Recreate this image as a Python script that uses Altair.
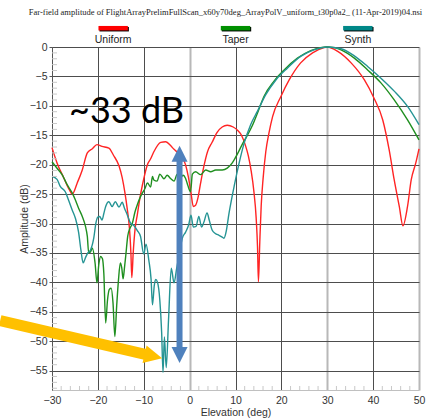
import altair as alt
import pandas as pd
import math

TITLE = "Far-field amplitude of FlightArrayPrelimFullScan_x60y70deg_ArrayPolV_uniform_t30p0a2_ (11-Apr-2019)04.nsi"
series_names = ["Uniform", "Taper", "Synth"]
line_colors = ["#ff2424", "#1f8f1f", "#259494"]
legend_colors = ["#ff0000", "#009000", "#008888"]

uniform_x = [-30, -28.9, -27.4, -26.2, -25.6, -24.5, -23.4, -22.3, -21.2, -20.2, -19.1, -17.6, -16.6, -15.4, -14.7, -14.1, -13.6, -13.1, -12.8, -12.6, -12.3, -11.9, -11.4, -10.8, -10.3, -9.2, -8.5, -7.8, -6.3, -5.2, -4.1, -3.4, -2.5, -1.6, -0.9, -0.3, 0.3, 0.8, 1.3, 1.8, 2.4, 3.1, 3.9, 4.9, 6.0, 7.1, 8.2, 9.5, 10.5, 11.3, 12.2, 12.8, 13.4, 14.0, 14.5, 14.8, 15.0, 15.3, 15.6, 16.0, 16.6, 17.3, 18.1, 19.9, 21.7, 24.2, 26.8, 29.3, 30.0, 32.2, 35.2, 38.1, 40.2, 42.1, 43.5, 44.6, 45.7, 46.5, 47.5, 48.3, 49.3, 50]
uniform_y = [-17.1, -19.7, -22.3, -24.3, -25.0, -23.1, -20.9, -18.0, -17.3, -16.6, -16.9, -17.2, -18.4, -20.2, -22.2, -24.8, -27.5, -31.0, -35.0, -39.2, -35.0, -31.0, -28.5, -25.5, -23.5, -20.0, -19.0, -17.8, -16.2, -16.1, -16.8, -17.4, -18.0, -18.8, -20.0, -22.0, -24.8, -27.1, -26.9, -25.7, -23.1, -20.3, -17.8, -16.2, -14.5, -13.6, -13.3, -13.6, -14.2, -15.0, -16.8, -18.5, -21.0, -24.5, -29.0, -34.0, -39.9, -33.0, -27.0, -22.5, -17.8, -14.6, -11.8, -8.4, -5.6, -2.7, -1.0, -0.1, 0.0, -0.7, -2.7, -5.6, -8.7, -12.4, -17.5, -22.6, -27.1, -30.4, -27.1, -22.6, -19.7, -17.3]

taper_x = [-30, -28.9, -27.8, -26.7, -25.6, -24.9, -24.2, -23.4, -22.7, -22.3, -22.0, -21.6, -21.2, -20.6, -20.2, -19.8, -19.4, -19.0, -18.7, -18.3, -17.9, -17.5, -17.1, -16.7, -16.3, -15.9, -15.5, -15.1, -14.8, -14.5, -14.2, -13.9, -13.5, -13.0, -12.5, -11.9, -11.4, -10.8, -10.3, -9.7, -9.2, -8.5, -8.1, -7.8, -7.1, -6.5, -5.6, -4.9, -4.1, -3.4, -2.7, -2.0, -1.4, -0.9, -0.4, 0.2, 0.6, 1.3, 2.4, 3.5, 4.6, 5.7, 7.1, 8.2, 9.3, 10.4, 11.5, 12.6, 13.7, 14.8, 16.2, 18.4, 20.6, 23.5, 26.4, 28.5, 30.0, 31.5, 33.0, 35.9, 38.8, 41.7, 44.6, 47.5, 50]
taper_y = [-19.5, -20.6, -21.7, -23.4, -24.8, -26.0, -27.4, -28.8, -30.5, -32.2, -35.0, -34.8, -34.2, -36.8, -40.1, -37.0, -35.6, -36.0, -38.5, -46.9, -43.0, -41.2, -41.0, -43.5, -49.2, -44.0, -39.5, -36.7, -37.5, -39.4, -37.5, -35.3, -32.2, -30.8, -30.0, -28.0, -26.8, -25.6, -24.8, -24.0, -23.1, -23.8, -22.0, -22.6, -22.8, -21.6, -22.4, -21.8, -22.4, -22.8, -21.6, -22.2, -21.8, -22.3, -23.5, -24.6, -21.6, -21.2, -21.7, -20.9, -21.2, -20.9, -20.9, -20.6, -19.7, -18.2, -16.5, -15.0, -13.3, -11.2, -8.4, -5.8, -3.9, -1.9, -0.6, -0.1, 0.0, -0.1, -0.5, -1.9, -3.9, -6.1, -9.0, -12.4, -15.8]

synth_x = [-30, -28.9, -28.2, -27.1, -26.4, -25.6, -24.9, -24.2, -23.7, -23.2, -22.7, -22.2, -21.6, -20.9, -20.4, -20.0, -19.6, -19.1, -18.7, -18.3, -17.6, -16.9, -16.2, -15.4, -14.7, -14.2, -13.6, -12.9, -12.2, -11.4, -10.7, -10.0, -9.5, -8.9, -8.4, -8.1, -7.7, -7.4, -7.0, -6.5, -6.1, -5.8, -5.5, -5.1, -4.6, -4.0, -3.4, -2.8, -2.2, -1.6, -0.9, -0.2, 0.3, 0.8, 1.4, 2.0, 2.6, 3.1, 3.8, 4.3, 4.9, 5.6, 6.4, 7.1, 7.5, 7.9, 8.6, 9.7, 10.8, 11.9, 13.3, 14.8, 16.6, 18.8, 21.3, 24.2, 27.1, 30.0, 33.0, 35.9, 38.8, 41.7, 44.6, 47.5, 50]
synth_y = [-22.0, -22.5, -23.7, -24.6, -26.0, -27.7, -29.1, -31.5, -34.5, -36.7, -35.8, -35.0, -34.5, -32.5, -29.8, -28.9, -28.8, -29.4, -28.3, -27.1, -26.3, -27.1, -26.3, -27.2, -26.4, -27.4, -28.5, -29.9, -30.3, -31.2, -32.2, -35.2, -33.5, -36.2, -39.5, -43.8, -40.5, -39.5, -40.0, -43.0, -48.5, -55.3, -49.3, -54.5, -46.4, -37.6, -40.1, -37.5, -35.0, -32.5, -31.5, -30.2, -28.6, -30.6, -30.5, -28.8, -30.6, -29.8, -28.2, -29.5, -31.1, -31.7, -32.0, -32.3, -32.5, -31.6, -28.2, -23.7, -19.7, -16.3, -13.2, -10.9, -8.1, -5.6, -3.6, -1.6, -0.5, 0.0, -0.3, -1.5, -3.3, -5.3, -7.5, -10.1, -13.2]

x_ticks = [-30, -20, -10, 0, 10, 20, 30, 40, 50]
y_ticks = [-55, -50, -45, -40, -35, -30, -25, -20, -15, -10, -5, 0]

# annotations (data coordinates)
note_text = "~33 dB"
note_x, note_y = -13.75, -12.9
blue_x, blue_top, blue_bottom = -2.2, -16.8, -53.7
yellow_start = (-41.3, -46.5)
yellow_tip = (-6.0, -52.9)

X_DOMAIN = [-30, 50]
Y_DOMAIN = [-58.3, 0]
W, H = 367, 343
FONT = "Liberation Sans"

xs = alt.Scale(domain=X_DOMAIN, nice=False, zero=False)
ys = alt.Scale(domain=Y_DOMAIN, nice=False, zero=False)


def X(field):
    return alt.X(field, scale=xs, axis=None)


def Y(field):
    return alt.Y(field, scale=ys, axis=None)


rows = []
for name, xv, yv in [("Uniform", uniform_x, uniform_y), ("Taper", taper_x, taper_y), ("Synth", synth_x, synth_y)]:
    for i, (a, b) in enumerate(zip(xv, yv)):
        rows.append({"series": name, "elev": a, "amp": b, "ord": i})
df = pd.DataFrame(rows)

special = "datum.value === 0 || datum.value === 30 || datum.value === 50"
x_axis = alt.Axis(values=x_ticks, grid=True,
                  gridColor={"condition": {"test": special, "value": "#b8b8b8"}, "value": "#4d4d4d"},
                  gridWidth={"condition": {"test": special, "value": 2}, "value": 1},
                  tickSize=0, labelPadding=5, domainColor="#c0c0c0",
                  labelOverlap=False, labelBound=False, labelFlush=False,
                  labelFont=FONT, labelFontSize=10.5, labelColor="#333333",
                  titleFont=FONT, titleFontSize=10.5, titleFontWeight="normal", titleColor="#333333",
                  titlePadding=2)
y_axis = alt.Axis(values=y_ticks, grid=True, gridColor="#4d4d4d", gridWidth=1,
                  tickSize=3, tickColor="#555555", labelPadding=2, domainColor="#555555",
                  labelOverlap=False, labelBound=False, labelFlush=False,
                  labelFont=FONT, labelFontSize=10.5, labelColor="#333333",
                  titleFont=FONT, titleFontSize=10.5, titleFontWeight="normal", titleColor="#333333",
                  titlePadding=0)

lines = alt.Chart(df).mark_line(strokeWidth=1.4, interpolate="monotone").encode(
    x=alt.X("elev:Q", scale=xs, axis=x_axis, title="Elevation (deg)"),
    y=alt.Y("amp:Q", scale=ys, axis=y_axis, title="Amplitude (dB)"),
    color=alt.Color("series:N", scale=alt.Scale(domain=series_names, range=line_colors), legend=None),
    order="ord:Q",
)

# minor ticks
minor_y = pd.DataFrame({"v": [v for v in range(-58, 0) if v % 5 != 0]})
minor_left = alt.Chart(minor_y).mark_rule(color="#c8c8c8", strokeWidth=1).encode(
    y=Y("v:Q"), x=alt.value(0), x2=alt.value(5))
minor_x = pd.DataFrame({"v": [v for v in range(-28, 50, 2) if v % 10 != 0]})
minor_bottom = alt.Chart(minor_x).mark_rule(color="#c8c8c8", strokeWidth=1).encode(
    x=X("v:Q"), y=alt.value(H), y2=alt.value(H - 4))

# title as a text mark above the legend
title_mark = alt.Chart(pd.DataFrame({"t": [TITLE]})).mark_text(
    font="Liberation Serif", fontSize=8.5, color="#222222", baseline="middle", align="center").encode(
    x=alt.value(W / 2 - 10), y=alt.value(-35), text="t:N")

# custom legend across the top
span = X_DOMAIN[1] - X_DOMAIN[0]
half = 14.7 * span / W
leg = pd.DataFrame({
    "series": series_names,
    "color": legend_colors,
    "cx": [X_DOMAIN[0] + span * (2 * i + 1) / 6 for i in range(3)],
})
leg["x0"] = leg["cx"] - half
leg["x1"] = leg["cx"] + half
leg_shadow = alt.Chart(leg).mark_rule(strokeWidth=4.5, color="#000000", strokeCap="butt", xOffset=1, x2Offset=1).encode(
    x=X("x0:Q"), x2="x1:Q", y=alt.value(-17.8))
leg_bar = alt.Chart(leg).mark_rule(strokeWidth=4.5, strokeCap="butt").encode(
    x=X("x0:Q"), x2="x1:Q", y=alt.value(-18.8),
    color=alt.Color("color:N", scale=None))
leg_text = alt.Chart(leg).mark_text(font=FONT, fontSize=10.5, color="#222222", baseline="middle").encode(
    x=X("cx:Q"), y=alt.value(-7), text="series:N")

# annotations
note = alt.Chart(pd.DataFrame({"x": [note_x], "y": [note_y], "t": [note_text]})).mark_text(
    font="Lato", fontSize=36, color="#000000", baseline="alphabetic", align="center").encode(
    x=X("x:Q"), y=Y("y:Q"), text="t:N")

BLUE = "#4F81BD"
YELLOW = "#FFC000"
px_per_db = H / (Y_DOMAIN[1] - Y_DOMAIN[0])
px_per_deg = W / span
blue_shaft = alt.Chart(pd.DataFrame({"x": [blue_x], "y": [blue_top - 7 / px_per_db], "y2": [blue_bottom + 7 / px_per_db]})).mark_rule(
    color=BLUE, strokeWidth=6, strokeCap="butt").encode(
    x=X("x:Q"), y=Y("y:Q"), y2="y2:Q")
blue_heads = alt.Chart(pd.DataFrame({"x": [blue_x, blue_x], "y": [blue_top, blue_bottom], "k": ["up", "down"]})).mark_point(
    filled=True, opacity=1, color=BLUE, size=256, strokeWidth=0).encode(
    x=X("x:Q"), y=Y("y:Q"),
    shape=alt.Shape("k:N", scale=alt.Scale(domain=["up", "down"], range=["M0,0L-1,2L1,2Z", "M0,0L-1,-2L1,-2Z"]), legend=None))

ang = 13.0
back = 14.0
ye_x = yellow_tip[0] - back * math.cos(math.radians(ang)) / px_per_deg
ye_y = yellow_tip[1] + back * math.sin(math.radians(ang)) / px_per_db
yellow_shaft = alt.Chart(pd.DataFrame({"x": [yellow_start[0]], "y": [yellow_start[1]], "x2": [ye_x], "y2": [ye_y]})).mark_rule(
    color=YELLOW, strokeWidth=11, strokeCap="butt").encode(
    x=X("x:Q"), y=Y("y:Q"), x2="x2:Q", y2="y2:Q")
yellow_head = alt.Chart(pd.DataFrame({"x": [yellow_tip[0]], "y": [yellow_tip[1]]})).mark_point(
    filled=True, opacity=1, color=YELLOW, size=324, strokeWidth=0, shape="M0,0L-2,-1L-2,1Z", angle=ang).encode(
    x=X("x:Q"), y=Y("y:Q"))

chart = alt.layer(
    lines, minor_left, minor_bottom, title_mark, leg_shadow, leg_bar, leg_text, note,
    blue_shaft, blue_heads, yellow_shaft, yellow_head,
).resolve_axis(x="independent", y="independent").properties(
    width=W, height=H,
    autosize=alt.AutoSizeParams(type="none"),
    padding={"left": 52, "top": 47, "right": 14, "bottom": 30},
    background="white",
).configure_view(stroke=None).configure_axis(labelOverlap=False)

chart.save("out.html", embed_options={"renderer": "svg", "actions": False})
